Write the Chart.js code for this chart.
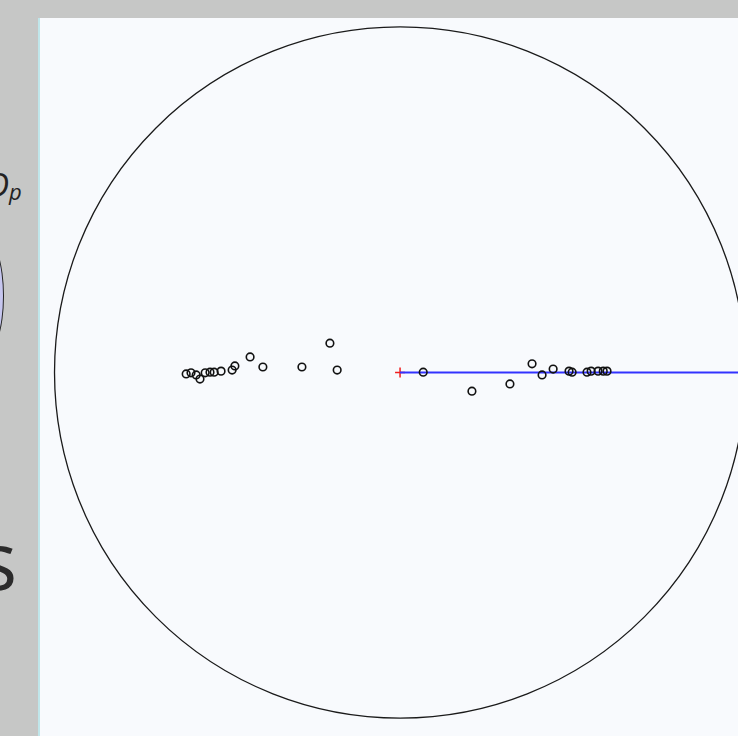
<!DOCTYPE html>
<html>
<head>
<meta charset="utf-8">
<script src="https://cdn.jsdelivr.net/npm/chart.js@4/dist/chart.umd.min.js"></script>
<style>
    html, body { margin: 0; padding: 0; }
    body {
        width: 738px; height: 736px; overflow: hidden; position: relative;
        background: #c6c7c6; font-family: "Open Sans", sans-serif; color: #222;
    }
    .side { position: absolute; line-height: 1; white-space: nowrap; }
    #symD { left: -40px; width: 49px; top: 168px; font-size: 33px; font-style: italic; text-align: right; }
    #symP { left: 9px; top: 180px; font-size: 22px; font-style: italic; }
    #blob {
        position: absolute; left: -36px; top: 236px; width: 40px; height: 120px;
        border-radius: 50%; border: 1.5px solid #222; background: #c6c6ef; box-sizing: border-box;
    }
    #bigS { left: -80px; width: 97px; top: 519px; font-size: 80px; text-align: right; color: #2b2b2b; }
    #panel {
        position: absolute; left: 38px; top: 18px; width: 700px; height: 718px;
        background: #f8fafd; border-left: 2px solid #c0e6ea; box-sizing: border-box;
    }
    #plot { position: absolute; left: 40px; top: 18px; }
</style>
</head>
<body>
<div class="side" id="symD">D</div>
<div class="side" id="symP">p</div>
<div id="blob"></div>
<div class="side" id="bigS">s</div>
<div id="panel"></div>
<canvas id="plot" width="698" height="718"></canvas>

<script>
// Sample positions (unit circle coordinates)
const sampleX = [-0.619, -0.605, -0.590, -0.579, -0.564, -0.550, -0.538, -0.518, -0.486, -0.478,
    -0.434, -0.397, -0.284, -0.203, -0.182,
    0.067, 0.208, 0.318, 0.382, 0.411, 0.443, 0.489, 0.498, 0.541, 0.553, 0.573, 0.588, 0.599];
const sampleY = [-0.004, -0.001, -0.007, -0.019, -0.001, 0.001, 0.001, 0.004, 0.007, 0.019,
    0.045, 0.016, 0.016, 0.085, 0.007,
    0.001, -0.054, -0.033, 0.025, -0.007, 0.010, 0.004, 0.001, 0.001, 0.004, 0.004, 0.004, 0.004];

// Center marker and direction line
const centerPoint = [0, 0];
const directionX = [0, 1];
const directionY = [0, 0];

// Visible window and boundary circle radius
const xRange = [-1.042, 0.978];
const yRange = [-1.052, 1.026];
const circleRadius = 1;

// Draw the boundary circle using the chart scales
const circlePlugin = {
    id: 'boundaryCircle',
    beforeDatasetsDraw(chart) {
        const ctx = chart.ctx;
        const xs = chart.scales.x;
        const ys = chart.scales.y;
        const cx = xs.getPixelForValue(0);
        const cy = ys.getPixelForValue(0);
        const r = xs.getPixelForValue(circleRadius) - cx;
        ctx.save();
        ctx.beginPath();
        ctx.arc(cx, cy, r, 0, Math.PI * 2);
        ctx.strokeStyle = '#1a1a1a';
        ctx.lineWidth = 1.3;
        ctx.stroke();
        ctx.restore();
    }
};

document.addEventListener('DOMContentLoaded', function () {
    const ctx = document.getElementById('plot').getContext('2d');
    new Chart(ctx, {
        type: 'scatter',
        data: {
            datasets: [{
                label: 'samples',
                data: sampleX.map((x, i) => ({ x: x, y: sampleY[i] })),
                pointStyle: 'circle',
                pointRadius: 3.8,
                pointBorderWidth: 1.6,
                pointBorderColor: '#111',
                pointBackgroundColor: 'rgba(0,0,0,0)',
                order: 0
            }, {
                label: 'direction',
                data: directionX.map((x, i) => ({ x: x, y: directionY[i] })),
                showLine: true,
                borderColor: 'rgb(50, 50, 255)',
                borderWidth: 2.2,
                pointRadius: 0,
                order: 1
            }, {
                label: 'center',
                data: [{ x: centerPoint[0], y: centerPoint[1] }],
                pointStyle: 'cross',
                pointRadius: 5,
                pointBorderWidth: 1.5,
                pointBorderColor: 'rgb(240, 30, 30)',
                order: 2
            }]
        },
        options: {
            responsive: false,
            animation: false,
            devicePixelRatio: 1,
            layout: { padding: 0, autoPadding: false },
            scales: {
                x: { type: 'linear', min: xRange[0], max: xRange[1], display: false },
                y: { type: 'linear', min: yRange[0], max: yRange[1], display: false }
            },
            plugins: {
                legend: { display: false },
                tooltip: { enabled: false }
            }
        },
        plugins: [circlePlugin]
    });
});
</script>
</body>
</html>
